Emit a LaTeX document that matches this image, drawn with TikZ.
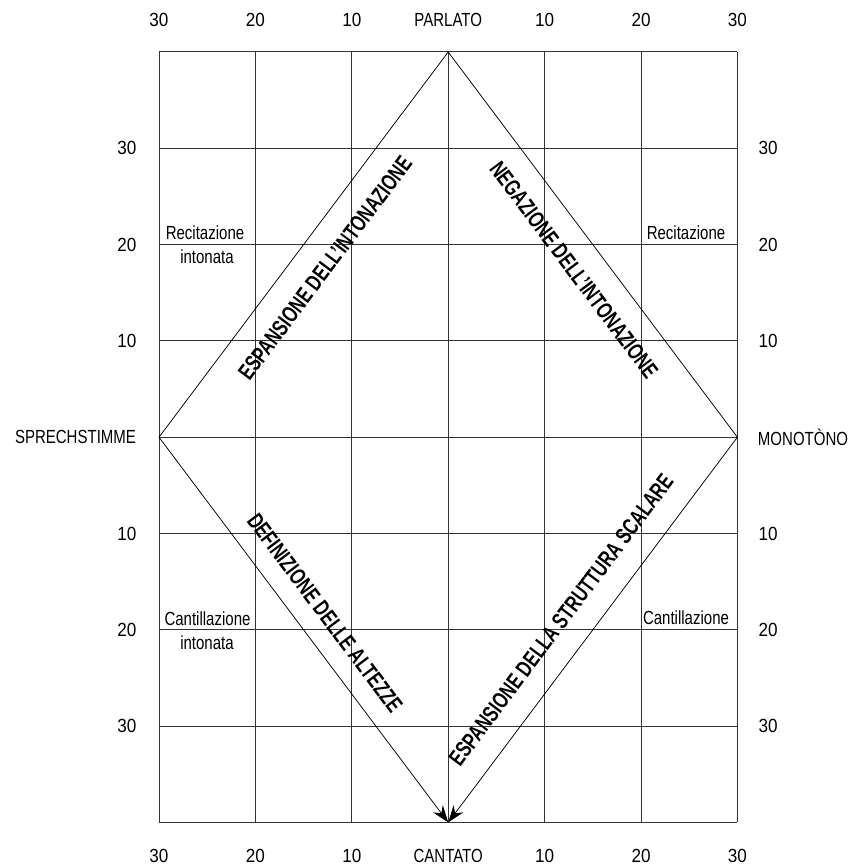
\documentclass[tikz,border=0pt]{standalone}
\usepackage{fontspec}
\setmainfont{Liberation Sans}[FakeStretch=0.79]
\newfontfamily\numfont{Liberation Sans}[FakeStretch=0.9]
\newfontfamily\diagfont{Liberation Sans Bold}[FakeStretch=0.72]
\usetikzlibrary{arrows.meta}
\begin{document}
\begin{tikzpicture}[x=1pt,y=-1pt,
  gridline/.style={line width=1pt, draw=black!80},
  edge/.style={line width=0.75pt, draw=black},
  arr/.style={edge, -{Stealth[length=17pt,width=12pt]}},
  lab/.style={font=\fontsize{19}{21}\selectfont, inner sep=0pt},
  num/.style={font=\numfont\fontsize{19}{21}\selectfont, inner sep=0pt},
  diag/.style={font=\diagfont\fontsize{23}{24}\selectfont, inner sep=0pt},
]
\useasboundingbox (0,0) rectangle (854,866);
% grid
\foreach \i in {0,...,6} \draw[gridline] ({159+96.4*\i},52) -- ({159+96.4*\i},822.4);
\foreach \j in {0,...,8} \draw[gridline] (159,{52+96.3*\j}) -- (737.4,{52+96.3*\j});
% diamond
\coordinate (T) at (448.2,52);
\coordinate (L) at (159,437.2);
\coordinate (R) at (737.4,437.2);
\coordinate (B) at (448.2,822.4);
\draw[edge] (L) -- (T) -- (R);
\draw[arr] (L) -- (B);
\draw[arr] (R) -- (B);
% top labels
\node[num] (tl30) at (159,20) {30};
\node[num] (tl20) at (255.4,20) {20};
\node[num] (tl10) at (351.8,20) {10};
\node[lab] (parlato) at (448.2,20) {PARLATO};
\node[num] (tr10) at (544.6,20) {10};
\node[num] (tr20) at (641,20) {20};
\node[num] (tr30) at (737.4,20) {30};
% bottom labels
\node[num] (bl30) at (159,855.5) {30};
\node[num] (bl20) at (255.4,855.5) {20};
\node[num] (bl10) at (351.8,855.5) {10};
\node[lab] (cantato) at (448.2,855.5) {CANTATO};
\node[num] (br10) at (544.6,855.5) {10};
\node[num] (br20) at (641,855.5) {20};
\node[num] (br30) at (737.4,855.5) {30};
% left labels
\node[num] (lu30) at (127,148.3) {30};
\node[num] (lu20) at (127,244.6) {20};
\node[num] (lu10) at (127,340.9) {10};
\node[lab] (sprech) at (75.5,437.2) {SPRECHSTIMME};
\node[num] (ld10) at (127,533.5) {10};
\node[num] (ld20) at (127,629.8) {20};
\node[num] (ld30) at (127,726.1) {30};
% right labels
\node[num] (ru30) at (768,148.3) {30};
\node[num] (ru20) at (768,244.6) {20};
\node[num] (ru10) at (768,340.9) {10};
\node[lab] (mono) at (803,437.2) {MONOTÒNO};
\node[num] (rd10) at (768,533.5) {10};
\node[num] (rd20) at (768,629.8) {20};
\node[num] (rd30) at (768,726.1) {30};
% inner labels
\node[lab,anchor=base] (recl) at (205,239.3) {Recitazione};
\node[lab,anchor=base] (recli) at (207,263.3) {intonata};
\node[lab,anchor=base] (recr) at (686,239.3) {Recitazione};
\node[lab,anchor=base] (cantl) at (207.5,625) {Cantillazione};
\node[lab,anchor=base] (cantli) at (207,649.3) {intonata};
\node[lab,anchor=base] (cantr) at (686,624.5) {Cantillazione};
% diagonal labels
\node[diag,rotate=53.13] (espint) at (325,268) {ESPANSIONE DELL’INTONAZIONE};
\node[diag,rotate=-53.13] (negint) at (574,270) {NEGAZIONE DELL’INTONAZIONE};
\node[diag,rotate=-53.13] (defalt) at (325,613) {DEFINIZIONE DELLE ALTEZZE};
\node[diag,rotate=53.13] (espsca) at (561,620) {ESPANSIONE DELLA STRUTTURA SCALARE};
\end{tikzpicture}
\end{document}
